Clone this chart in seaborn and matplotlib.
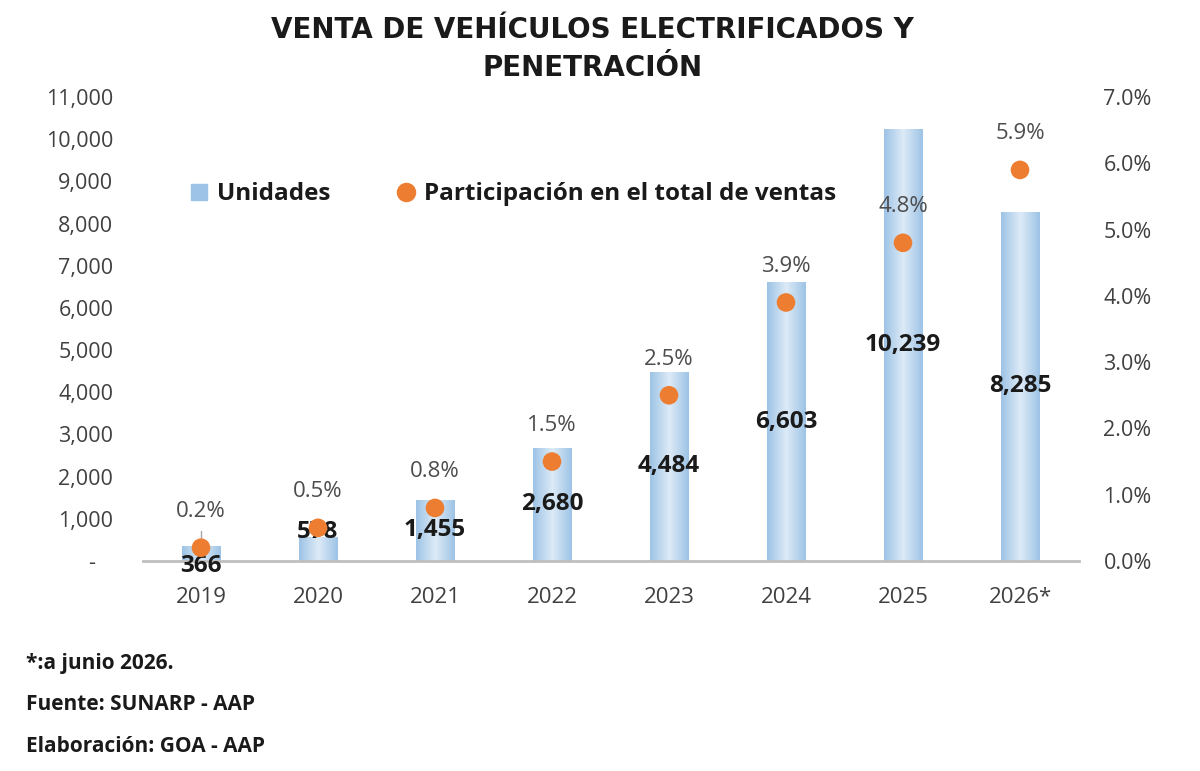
import numpy as np
import pandas as pd
import matplotlib
matplotlib.use("Agg")
import matplotlib.pyplot as plt
import seaborn as sns
from matplotlib.lines import Line2D
from matplotlib.colors import LinearSegmentedColormap

years = ["2019", "2020", "2021", "2022", "2023", "2024", "2025", "2026*"]
units = [366, 578, 1455, 2680, 4484, 6603, 10239, 8285]
share = [0.2, 0.5, 0.8, 1.5, 2.5, 3.9, 4.8, 5.9]
left_ticks = [0, 1000, 2000, 3000, 4000, 5000, 6000, 7000, 8000, 9000, 10000, 11000]
right_ticks = [0, 1, 2, 3, 4, 5, 6, 7]

title = "VENTA DE VEHÍCULOS ELECTRIFICADOS Y\nPENETRACIÓN"
notes = ["*:a junio 2026.", "Fuente: SUNARP - AAP", "Elaboración: GOA - AAP"]

sns.set_theme(style="white")
plt.rcParams["font.family"] = ["Open Sans", "DejaVu Sans"]

BAR_EDGE = "#9DC3E6"
BAR_MID = "#DDEBF7"
ORANGE = "#ED7D31"
TICK = "#404040"

df = pd.DataFrame({"year": years, "units": units, "share": share})

fig = plt.figure(figsize=(12, 7.71), dpi=100)
ax = fig.add_axes([0.11875, 0.2724, 0.78, 0.6018])

sns.barplot(data=df, x="year", y="units", ax=ax, color=BAR_EDGE, width=0.33,
            saturation=1, edgecolor="none")

# gradient fill for bars
cmap = LinearSegmentedColormap.from_list("g", [BAR_EDGE, BAR_MID, BAR_EDGE])
grad = np.linspace(0, 1, 256).reshape(1, -1)
for p in ax.patches:
    x0, y0 = p.get_x(), p.get_y()
    w, h = p.get_width(), p.get_height()
    im = ax.imshow(grad, cmap=cmap, aspect="auto", extent=(x0, x0 + w, y0, y0 + h),
                   zorder=p.get_zorder() + 0.1)
    im.set_clip_path(p)

ax.set_xlim(-0.5, len(years) - 0.5)
ax.set_ylim(0, 11000)
ax.set_yticks(left_ticks)
ax.set_yticklabels(["-   "] + [f"{v:,}" for v in left_ticks[1:]])
ax.set_xlabel("")
ax.set_ylabel("")
ax.tick_params(axis="y", length=0, pad=21, labelsize=15.5, labelcolor=TICK)
ax.tick_params(axis="x", length=0, pad=19, labelsize=16, labelcolor=TICK)
for s in ["top", "right", "left"]:
    ax.spines[s].set_visible(False)
ax.spines["bottom"].set_color("#BFBFBF")
ax.spines["bottom"].set_linewidth(2)

# unit labels
for i, v in enumerate(units):
    y = v / 2
    if i == 0:
        y = -110
    elif i == 1:
        y = 680
    ax.text(i, y, f"{v:,}", ha="center", va="center", fontsize=17.5, fontweight="bold",
            color="#1A1A1A", zorder=10)

ax2 = ax.twinx()
# small leader line on first point
ax2.plot([0, 0], [share[0], share[0] + 0.25], color="#A6A6A6", lw=1, zorder=4)
sns.scatterplot(data=df, x="year", y="share", ax=ax2, color=ORANGE, s=180,
                edgecolor="none", zorder=5, legend=False)
ax2.set_ylim(0, 7)
ax2.set_yticks(right_ticks)
ax2.set_yticklabels([f"{v:.1f}%" for v in right_ticks])
ax2.set_ylabel("")
ax2.set_xlabel("")
ax2.tick_params(axis="y", length=0, pad=18, labelsize=15.5, labelcolor=TICK)
for s in ["top", "right", "left", "bottom"]:
    ax2.spines[s].set_visible(False)
for i, v in enumerate(share):
    ax2.annotate(f"{v:.1f}%", (i, v), xytext=(0, 26), textcoords="offset points",
                 ha="center", va="center", fontsize=16, color="#4D4D4D", zorder=10)

handles = [
    Line2D([], [], marker="s", linestyle="none", markersize=11, color=BAR_EDGE),
    Line2D([], [], marker="o", linestyle="none", markersize=13, color=ORANGE),
]
leg = ax.legend(handles, ["Unidades", "Participación en el total de ventas"],
                loc="center left", bbox_to_anchor=(0.024, 0.79), ncol=2, frameon=False,
                prop={"size": 17.5, "weight": "bold"}, handletextpad=0.25,
                columnspacing=2.6, handlelength=1.0)
for t in leg.get_texts():
    t.set_color("#1A1A1A")

fig.text(0.494, 0.937, title, ha="center", va="center", fontsize=20, fontweight="bold",
         color="#1A1A1A", linespacing=1.45, family=["DejaVu Sans"])

for k, n in enumerate(notes):
    fig.text(0.022, 1 - (663 + 42 * k) / 771, n, ha="left", va="center", fontsize=15,
             fontweight="bold", color="#1A1A1A")

fig.savefig("out.png", dpi=100)
